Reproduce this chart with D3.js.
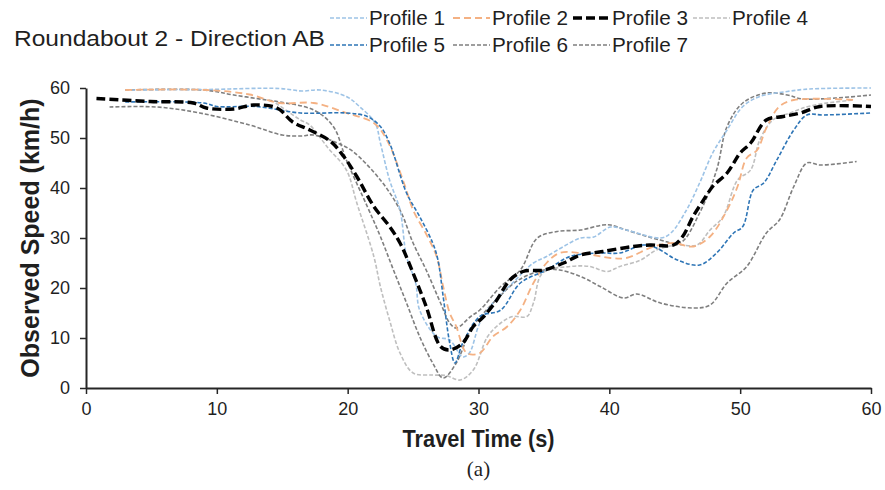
<!DOCTYPE html>
<html>
<head>
<meta charset="utf-8">
<script src="https://cdn.jsdelivr.net/npm/d3@7"></script>
<style>
  body { margin: 0; background: #fff; }
  text { font-family: "Liberation Sans", Arial, sans-serif; fill: #1f1f1f; }
</style>
</head>
<body>
<div id="chart"></div>
<script>
// profile data: travel time (s) and observed speed (km/h)
const profileNames = ['Profile 1', 'Profile 2', 'Profile 3', 'Profile 4', 'Profile 5', 'Profile 6', 'Profile 7'];

const p1Time  = [3, 9, 14.8, 16.5, 17.9, 19.9, 20.9, 22.1, 22.5, 23.2, 24, 24.5, 25.2, 25.5, 26.8, 27.8, 28.8, 29.3, 30.1, 31.1, 32.6, 34.2, 35.2, 36.5, 37.8, 38.8, 40.1, 41.3, 43.9, 44.7, 45.9, 46.9, 47.9, 49, 50.2, 51.5, 53.6, 55.3, 60];
const p1Speed = [59.6, 59.7, 59.9, 59.4, 59.6, 58.3, 56.3, 53, 49, 41.6, 35.6, 26.3, 21, 15.6, 10.3, 9.6, 6.2, 7, 13, 17, 21, 25, 26.3, 28.3, 30, 30.2, 32.2, 31.6, 30, 31, 35.6, 41, 47, 51.6, 56.3, 58.3, 59.3, 59.8, 60];

const p2Time  = [3, 9.2, 12.5, 14.8, 17.4, 19.9, 22, 23, 24.3, 25, 26.1, 26.8, 27.3, 27.8, 28.3, 29.1, 30.1, 31.1, 32.2, 33.2, 34.2, 35.2, 36.2, 37.8, 40.1, 41.3, 43.4, 44.9, 46.4, 47.7, 49, 49.8, 50.5, 51.3, 52, 53, 54.1, 58.9];
const p2Speed = [59.6, 59.6, 58.7, 57, 57, 55, 53, 49.6, 41, 35.6, 30.3, 26.3, 20.3, 15, 12.3, 7, 7, 10.3, 12.3, 15.6, 21, 25, 27, 27, 26, 26, 28.3, 29, 28.3, 30.3, 35.6, 40.3, 46, 47.6, 52, 56.3, 57.6, 57.6];

const p3Time  = [0.8, 4.9, 8.2, 9.2, 11.3, 12.8, 14.6, 15.8, 17.1, 18.7, 19.7, 20.7, 22, 23.2, 24, 25, 26, 27.1, 27.8, 28.8, 29.6, 30.4, 31.4, 32.4, 33.4, 35, 36.5, 37.8, 39.5, 41.8, 43.1, 44.9, 45.6, 46.4, 47.2, 47.9, 49, 50, 50.8, 52, 53.3, 54.6, 56.1, 60];
const p3Speed = [57.9, 57.3, 57, 56, 55.8, 56.6, 56, 53.2, 51.6, 49.3, 46.3, 42.3, 36.3, 32.3, 29, 23, 16.3, 8.3, 7.6, 9, 12.3, 14.3, 17.6, 21.6, 23.3, 23.6, 25, 26.6, 27.3, 28.3, 28.6, 28.6, 30.3, 34.3, 37.6, 40.3, 43, 47, 49, 53.6, 54.3, 55, 56.3, 56.3];

const p4Time  = [14.5, 16.4, 17.1, 18.5, 19.9, 20.7, 22, 22.5, 23.2, 24, 25, 26.5, 27.5, 28.6, 29.6, 30.7, 31.7, 32.6, 33.7, 34.2, 34.9, 37, 38.5, 39.8, 40.8, 42.4, 43.6, 45.2, 46.7, 47.7, 48.7, 49.8, 50.8, 51.5, 52.5, 53.8, 55.5, 58.7];
const p4Speed = [57, 53.6, 52.6, 48, 43.6, 37, 26.3, 20.3, 13.6, 7, 3, 2.6, 2.5, 1.6, 3.6, 10.3, 13, 14.3, 14.3, 17, 23, 24.3, 24.3, 23.3, 24.3, 25.6, 27.6, 28.6, 28.6, 31.6, 34.3, 41.6, 43.6, 49.6, 53.6, 55, 56.5, 57.6];

const p5Time  = [3, 9, 10, 13, 16.4, 19.9, 21.5, 22.5, 23.2, 24.5, 25.5, 26.5, 26.9, 27.3, 27.8, 28.2, 28.8, 30.1, 31.7, 33.2, 35.2, 37, 39.3, 40.8, 42.6, 43.6, 45.2, 46.9, 48.2, 49.5, 50.2, 51, 51.8, 52.8, 54.1, 55.1, 56.4, 60];
const p5Speed = [57.2, 57, 56.3, 56.3, 55, 55, 54.3, 52.3, 49, 39, 34.3, 29, 25.6, 18.3, 9, 5, 9, 14.3, 15.6, 21, 23.6, 26.3, 27, 27, 28.6, 28, 25.6, 24.6, 27, 31, 32.3, 39.6, 41, 45.6, 51.6, 54.6, 54.6, 55];

const p6Time  = [3, 9, 11.3, 13.8, 14.8, 17.4, 18.9, 19.9, 21.5, 22.5, 23.5, 24.5, 25.5, 26.5, 27.3, 28.3, 29.4, 30.4, 31.5, 33, 35, 36.2, 37.8, 39.3, 41.1, 42.1, 43.9, 46.4, 47.7, 49, 50.5, 52, 53, 54.1, 55.1, 56.1, 58.9];
const p6Speed = [59.6, 59.6, 58.6, 57.6, 57.2, 55.6, 52.3, 45.6, 36.3, 30.3, 23.6, 17, 10.3, 5, 2, 5, 11.6, 15, 18, 21.5, 23.6, 23.6, 22.3, 20.3, 18, 18.8, 17, 16, 16.6, 21, 24.3, 31, 33.6, 40.3, 45, 44.6, 45.3];

const p7Time  = [1.8, 5.4, 8.7, 12.5, 15, 16.4, 17.4, 19.2, 20.4, 22.5, 24, 25, 26, 27.1, 27.8, 28.3, 29.4, 30.1, 31.7, 33.2, 34.5, 36, 37.8, 39.5, 40.1, 41.3, 43.9, 45.4, 46.9, 48.2, 49, 50.2, 52, 53.6, 54.8, 60];
const p7Speed = [56.2, 56.2, 55, 52.6, 50.6, 50.4, 50.6, 49, 47.3, 41.6, 35.6, 29, 23.6, 17, 13, 12, 14.3, 15.6, 20.3, 23.6, 30, 31.3, 31.6, 32.6, 32.6, 31.6, 29.6, 29, 35, 43.6, 52.3, 57, 59, 58.6, 57.8, 58.6];

const xTicks = [0, 10, 20, 30, 40, 50, 60];
const yTicks = [0, 10, 20, 30, 40, 50, 60];

const profileTimes  = [p1Time, p2Time, p3Time, p4Time, p5Time, p6Time, p7Time];
const profileSpeeds = [p1Speed, p2Speed, p3Speed, p4Speed, p5Speed, p6Speed, p7Speed];

// line styles per profile
const colors = ['#9DC3E6', '#F4B183', '#000000', '#BFBFBF', '#2E75B6', '#7F7F7F', '#7F7F7F'];
const widths = [1.6, 1.8, 3.4, 1.6, 1.6, 1.6, 1.6];
const dashes = ['4,2', '7,4', '9,4', '4,2', '4,2', '4,2', '4,2'];

const width = 885, height = 490;
const margin = { left: 86, right: 14, top: 88, bottom: 102 };

const svg = d3.select('#chart')
    .append('svg')
    .attr('width', width)
    .attr('height', height);

const x = d3.scaleLinear().domain([0, 60]).range([margin.left, width - margin.right]);
const y = d3.scaleLinear().domain([0, 60]).range([height - margin.bottom, margin.top]);

// axes
const xAxis = svg.append('g')
    .attr('transform', `translate(0,${y(0)})`)
    .call(d3.axisBottom(x).tickValues(xTicks).tickSize(6).tickPadding(8).tickSizeOuter(0));
const yAxis = svg.append('g')
    .attr('transform', `translate(${x(0)},0)`)
    .call(d3.axisLeft(y).tickValues(yTicks).tickSize(6).tickPadding(10).tickSizeOuter(0));

[xAxis, yAxis].forEach(g => {
    g.select('.domain').attr('stroke', '#262626').attr('stroke-width', 2);
    g.selectAll('.tick line').attr('stroke', '#262626').attr('stroke-width', 1.5);
    g.selectAll('.tick text')
        .attr('fill', '#1f1f1f')
        .style('font-family', '"Liberation Sans", Arial, sans-serif')
        .style('font-size', '18px');
});

// lines
const line = d3.line()
    .x(d => x(d[0]))
    .y(d => y(d[1]))
    .curve(d3.curveCatmullRom.alpha(0.5));

const drawOrder = [3, 5, 6, 0, 1, 4, 2];
drawOrder.forEach(i => {
    const pts = profileTimes[i].map((t, k) => [t, profileSpeeds[i][k]]);
    svg.append('path')
        .datum(pts)
        .attr('d', line)
        .attr('fill', 'none')
        .attr('stroke', colors[i])
        .attr('stroke-width', widths[i])
        .attr('stroke-dasharray', dashes[i]);
});

// title + legend
svg.append('text')
    .attr('x', 14)
    .attr('y', 46)
    .attr('textLength', 311)
    .attr('lengthAdjust', 'spacingAndGlyphs')
    .style('font-size', '22px')
    .text('Roundabout 2 - Direction AB');

const legendX = [330, 453, 573, 693];
const legendY = [25, 52];
profileNames.forEach((name, i) => {
    const lx = legendX[i % 4];
    const ly = legendY[Math.floor(i / 4)];
    svg.append('line')
        .attr('x1', lx).attr('x2', lx + 37)
        .attr('y1', ly - 7).attr('y2', ly - 7)
        .attr('stroke', colors[i])
        .attr('stroke-width', widths[i])
        .attr('stroke-dasharray', dashes[i]);
    svg.append('text')
        .attr('x', lx + 39)
        .attr('y', ly)
        .attr('textLength', 76)
        .attr('lengthAdjust', 'spacingAndGlyphs')
        .style('font-size', '20px')
        .text(name);
});

// axis titles
svg.append('text')
    .attr('x', (x(0) + x(60)) / 2)
    .attr('y', 447)
    .attr('text-anchor', 'middle')
    .attr('textLength', 152)
    .attr('lengthAdjust', 'spacingAndGlyphs')
    .style('font-size', '24px')
    .style('font-weight', 'bold')
    .text('Travel Time (s)');

svg.append('text')
    .attr('transform', `translate(39,${(y(0) + y(60)) / 2}) rotate(-90)`)
    .attr('text-anchor', 'middle')
    .style('font-size', '25px')
    .style('font-weight', 'bold')
    .text('Observed Speed (km/h)');

svg.append('text')
    .attr('x', (x(0) + x(60)) / 2)
    .attr('y', 476)
    .attr('text-anchor', 'middle')
    .style('font-family', '"Liberation Serif", "DejaVu Serif", serif')
    .style('font-size', '21px')
    .text('(a)');
</script>
</body>
</html>
